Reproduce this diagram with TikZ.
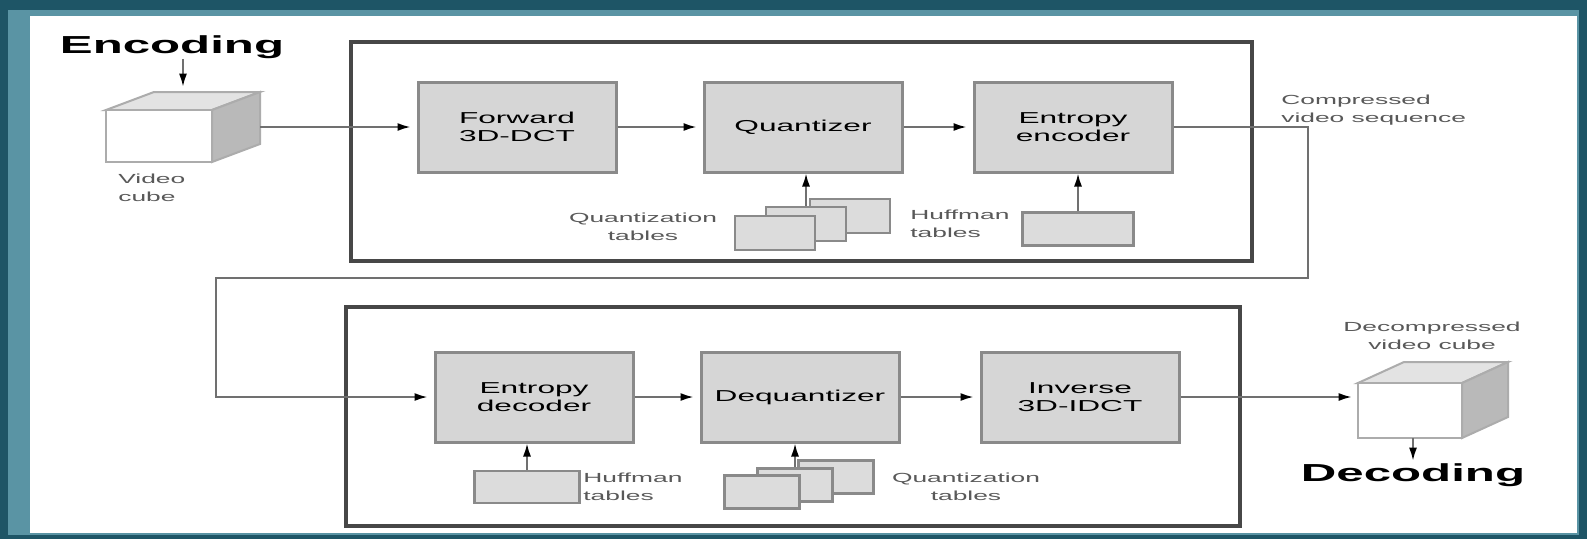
\documentclass[tikz,border=0pt]{standalone}
\usepackage{fontspec}
\setmainfont[FakeStretch=2]{Liberation Sans}
\usetikzlibrary{arrows.meta,positioning}

\definecolor{frameteal}{HTML}{1E5566}
\definecolor{frameedge}{HTML}{5A94A4}
\definecolor{boxgray}{HTML}{D6D6D6}
\definecolor{boxline}{HTML}{8A8A8A}
\definecolor{wire}{HTML}{707070}

\tikzset{
  stage/.style={draw=black!72, line width=0.8mm},
  block/.style={draw=boxline, line width=0.6mm, fill=boxgray, minimum width=39.6mm,
    minimum height=18mm, inner sep=0pt, align=center, font=\fontsize{9}{10.5}\selectfont},
  tabbox/.style={draw=boxline, line width=0.55mm, fill=boxgray!85, minimum width=16mm,
    minimum height=6.8mm, inner sep=0pt},
  note/.style={font=\fontsize{7.5}{10}\selectfont, text=black!65, inner sep=0pt},
  bigword/.style={font=\fontsize{14}{14}\selectfont\bfseries, inner sep=0pt},
  wirearrow/.style={draw=wire, line width=0.35mm,
    -{Latex[length=2.6mm,width=1.6mm,color=black]}, shorten >=1.2mm},
  cubebox/.style={inner sep=0pt},
  cubeline/.style={draw=gray!65, line width=0.4mm},
}

\begin{document}
\begin{tikzpicture}[x=0.2mm,y=-0.2mm]
% frame
\fill[frameteal] (0,0) rectangle (1587,539);
\fill[frameedge] (8,10) rectangle (1579,535);
\fill[white] (30,16) rectangle (1577,533);

% encoder and decoder stages
\draw[stage] (351,42) rectangle (1252,261);
\draw[stage] (346,307) rectangle (1240,526);

% input cube
\filldraw[cubeline, fill=gray!22] (106,110) -- (154,92) -- (260,92) -- (212,110) -- cycle;
\filldraw[cubeline, fill=gray!55] (212,110) -- (260,92) -- (260,144) -- (212,162) -- cycle;
\filldraw[cubeline, fill=white] (106,110) rectangle (212,162);
\node[cubebox, minimum width=30.8mm, minimum height=14mm] (incube) at (183,127) {};
\node[bigword] (enctxt) at (172,47) {Encoding};
\node[note, align=left, anchor=north west] (inlbl) at (118,174) {Video\\cube};

% encoder blocks
\node[block] (fdct) at (517,127) {Forward\\3D-DCT};
\node[block] (quant) at (803,127) {Quantizer};
\node[block] (entenc) at (1073,127) {Entropy\\encoder};

\node[tabbox] (qtabA) at (850,216) {};
\node[tabbox] (qtabB) at (806,224) {};
\node[tabbox] (qtabC) at (775,233) {};
\node[note, align=center] (qlblA) at (643,227) {Quantization\\tables};
\node[tabbox, minimum width=22.2mm, minimum height=6.6mm] (hufA) at (1078,229) {};
\node[note, align=left, anchor=west] (hlblA) at (910,224) {Huffman\\tables};
\node[note, align=left, anchor=west] (complbl) at (1281,110) {Compressed\\video sequence};

% decoder blocks
\node[block] (entdec) at (534,397) {Entropy\\decoder};
\node[block] (dequant) at (800,397) {Dequantizer};
\node[block] (idct) at (1080,397) {Inverse\\3D-IDCT};

\node[tabbox, minimum width=21mm, minimum height=6.4mm] (hufB) at (527,487) {};
\node[note, align=left, anchor=west] (hlblB) at (583,487) {Huffman\\tables};
\node[tabbox, minimum width=15mm, minimum height=6.6mm] (qtabD) at (836,477) {};
\node[tabbox, minimum width=15mm, minimum height=6.6mm] (qtabE) at (795,485) {};
\node[tabbox, minimum width=15mm, minimum height=6.6mm] (qtabF) at (762,492) {};
\node[note, align=center] (qlblB) at (966,487) {Quantization\\tables};

% output cube
\filldraw[cubeline, fill=gray!22] (1358,383) -- (1404,362) -- (1508,362) -- (1462,383) -- cycle;
\filldraw[cubeline, fill=gray!55] (1462,383) -- (1508,362) -- (1508,417) -- (1462,438) -- cycle;
\filldraw[cubeline, fill=white] (1358,383) rectangle (1462,438);
\node[cubebox, minimum width=30mm, minimum height=15.2mm] (outcube) at (1433,400) {};
\node[note, align=center] (outlbl) at (1432,336) {Decompressed\\video cube};
\node[bigword] (dectxt) at (1413,475) {Decoding};

% connectors
\draw[wirearrow, shorten >=1mm] (enctxt.south -| incube) -- (incube.north);
\draw[wirearrow] (incube.east) -- (fdct.west);
\draw[wirearrow] (fdct) -- (quant);
\draw[wirearrow] (quant) -- (entenc);
\draw[wirearrow, shorten >=0pt] (qtabB.north) -- (qtabB.north |- quant.south);
\draw[wirearrow, shorten >=0pt] (hufA.north) -- (hufA.north |- entenc.south);
\coordinate (loopA) at (1308,278);
\coordinate (loopB) at (216,278);
\draw[wirearrow] (entenc.east) -| (loopA) -- (loopB) |- (entdec.west);
\draw[wirearrow] (entdec) -- (dequant);
\draw[wirearrow] (dequant) -- (idct);
\draw[wirearrow, shorten >=0pt] (hufB.north) -- (hufB.north |- entdec.south);
\draw[wirearrow, shorten >=0pt] (qtabE.north) -- (qtabE.north |- dequant.south);
\draw[wirearrow] (idct.east) -- (idct.east -| outcube.west);
\draw[wirearrow, shorten >=0.5mm] (outcube.south -| dectxt) -- (dectxt.north);
\end{tikzpicture}
\end{document}
